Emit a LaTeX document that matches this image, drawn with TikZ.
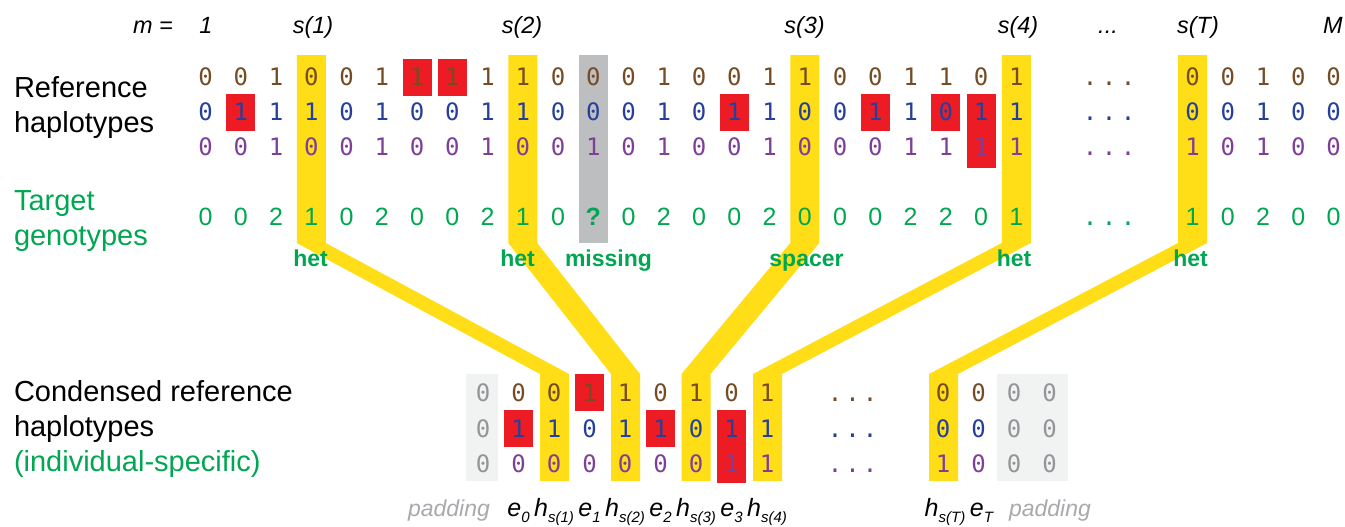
\documentclass[tikz,border=0pt]{standalone}
\usepackage{fontspec}
\setmainfont{Liberation Sans}
\newfontfamily\digitfont{DejaVu Sans Mono}

\definecolor{hapbrown}{HTML}{754C24}
\definecolor{hapblue}{HTML}{25409A}
\definecolor{happurple}{HTML}{7F3F98}
\definecolor{gengreen}{HTML}{00A651}
\definecolor{selyellow}{HTML}{FFDE17}
\definecolor{errred}{HTML}{ED1C24}
\definecolor{missgray}{HTML}{BCBEC0}
\definecolor{padfill}{HTML}{F1F2F2}
\definecolor{paddigit}{HTML}{939598}
\definecolor{padlabel}{HTML}{A7A9AC}

% lowered index for the column labels under the condensed panel
\newcommand\lowidx[1]{\raisebox{-4.8pt}{\fontsize{11.25}{11.25}\selectfont #1}}
% spaced ellipsis made of three periods
\newcommand\topdots{.\kern3.4pt.\kern3.4pt.}
\newcommand\lowdots{.\kern2.3pt.\kern2.3pt.}

\begin{document}
\begin{tikzpicture}[x=0.75pt,y=-0.75pt,
  every node/.style={inner sep=0pt,outer sep=0pt},
  hap/.style={font=\digitfont\fontsize{18}{18}\selectfont,anchor=base},
  gen/.style={font=\fontsize{18.75}{18.75}\selectfont,text=gengreen,anchor=base},
  tag/.style={font=\bfseries\fontsize{17.25}{17.25}\selectfont,text=gengreen,anchor=base},
  head/.style={font=\itshape\fontsize{17.6}{17.6}\selectfont,anchor=base},
  rowlabel/.style={font=\fontsize{21.75}{21.75}\selectfont,anchor=base west},
  collabel/.style={font=\itshape\fontsize{18.75}{18.75}\selectfont,anchor=base},
  padlab/.style={font=\itshape\fontsize{17.25}{17.25}\selectfont,text=padlabel,anchor=base},
  selband/.style={fill=selyellow},
  missband/.style={fill=missgray},
  padbox/.style={fill=padfill},
  redbox/.style={fill=errred},
]
\useasboundingbox (0,0) rectangle (1345,526);

% ---- selected het sites: column band bending down to the condensed panel
\foreach \k/\xb in {4/554.5,10/625.5,18/696,24/767.5,29/943.5} {
  \pgfmathsetmacro\xt{205.5+35.25*(\k-1)}
  \fill[selband] (\xt-14.5,55) -- (\xt+14.5,55) -- (\xt+14.5,243)
    -- (\xb+14.5,374) -- (\xb+14.5,481) -- (\xb-14.5,481)
    -- (\xb-14.5,374) -- (\xt-14.5,243) -- cycle;
}
% missing genotype column
\fill[missband] ({205.5+35.25*11-14.5},55) rectangle ({205.5+35.25*11+14.5},243);

% mismatching alleles in the reference panel
\foreach \k/\ya/\yb in {7/58.5/95.5,8/58.5/95.5,2/94/131,16/94/131,20/94/131,22/94/131,23/94/168}
  \fill[redbox] ({205.5+35.25*(\k-1)-14.5},\ya) rectangle ({205.5+35.25*(\k-1)+14.5},\yb);

% condensed panel: padding and mismatches
\fill[padbox] (466,374) rectangle (498,481);
\fill[padbox] (997,374) rectangle (1068,481);
\foreach \xc/\ya/\yb in {518.5/410/447,589.5/374/411,660.5/410/447,731.5/410/483}
  \fill[redbox] (\xc-14.5,\ya) rectangle (\xc+14.5,\yb);

% ---- header
\node[head] (hm) at (153,33) {m =};
\node[head] (h1) at (206,33) {1};
\node[head] (hs1) at (313,33) {s(1)};
\node[head] (hs2) at (522,33) {s(2)};
\node[head] (hs3) at (804.5,33) {s(3)};
\node[head] (hs4) at (1018,33) {s(4)};
\node[head] (hdots) at (1108,33) {...};
\node[head] (hsT) at (1198,33) {s(T)};
\node[head] (hM) at (1333,33) {M};

% ---- row labels
\node[rowlabel] (refA) at (14,97) {Reference};
\node[rowlabel] (refB) at (14,132) {haplotypes};
\node[rowlabel,text=gengreen] (tgtA) at (14,210) {Target};
\node[rowlabel,text=gengreen] (tgtB) at (14,245) {genotypes};
\node[rowlabel] (conA) at (14,401) {Condensed reference};
\node[rowlabel] (conB) at (14,436) {haplotypes};
\node[rowlabel,text=gengreen] (conC) at (14,471) {(individual-specific)};

% ---- reference haplotypes, sites 1..s(4)
\foreach \v [count=\k] in {0,0,1,0,0,1,1,1,1,1,0,0,0,1,0,0,1,1,0,0,1,1,0,1}
  \node[hap,text=hapbrown] (ra-\k) at ({205.5+35.25*(\k-1)},85.75) {\v};
\foreach \v [count=\k] in {0,1,1,1,0,1,0,0,1,1,0,0,0,1,0,1,1,0,0,1,1,0,1,1}
  \node[hap,text=hapblue] (rb-\k) at ({205.5+35.25*(\k-1)},120.75) {\v};
\foreach \v [count=\k] in {0,0,1,0,0,1,0,0,1,0,0,1,0,1,0,0,1,0,0,0,1,1,1,1}
  \node[hap,text=happurple] (rc-\k) at ({205.5+35.25*(\k-1)},155.75) {\v};
% sites s(T)..M
\foreach \v [count=\k from 29] in {0,0,1,0,0}
  \node[hap,text=hapbrown] (ra-\k) at ({205.5+35.25*(\k-1)},85.75) {\v};
\foreach \v [count=\k from 29] in {0,0,1,0,0}
  \node[hap,text=hapblue] (rb-\k) at ({205.5+35.25*(\k-1)},120.75) {\v};
\foreach \v [count=\k from 29] in {1,0,1,0,0}
  \node[hap,text=happurple] (rc-\k) at ({205.5+35.25*(\k-1)},155.75) {\v};
\node[hap,text=hapbrown] (radots) at (1109,85.75) {\topdots};
\node[hap,text=hapblue] (rbdots) at (1109,120.75) {\topdots};
\node[hap,text=happurple] (rcdots) at (1109,155.75) {\topdots};

% ---- target genotypes
\foreach \v [count=\k] in {0,0,2,1,0,2,0,0,2,1,0,\textbf{?},0,2,0,0,2,0,0,0,2,2,0,1}
  \node[gen] (g-\k) at ({205.5+35.25*(\k-1)},225) {\v};
\foreach \v [count=\k from 29] in {1,0,2,0,0}
  \node[gen] (g-\k) at ({205.5+35.25*(\k-1)},225) {\v};
\node[hap,text=gengreen] (gdots) at (1109,225) {\topdots};

% ---- site tags
\node[tag] (tag1) at (310.5,266) {het};
\node[tag] (tag2) at (517.5,266) {het};
\node[tag] (tag3) at (608.5,266) {missing};
\node[tag] (tag4) at (806.5,266) {spacer};
\node[tag] (tag5) at (1014,266) {het};
\node[tag] (tag6) at (1190.5,266) {het};

% ---- condensed reference haplotypes
\foreach \x [count=\i] in {483,1014,1049.5} {
  \node[hap,text=paddigit] (pa-\i) at (\x,401.75) {0};
  \node[hap,text=paddigit] (pb-\i) at (\x,437.25) {0};
  \node[hap,text=paddigit] (pc-\i) at (\x,472.75) {0};
}
\foreach \x/\a/\b/\c [count=\i] in {518.5/0/1/0,554/0/1/0,589.5/1/0/0,625/1/1/0,660.5/0/1/0,696/1/0/0,731.5/0/1/1,767/1/1/1,943/0/0/1,978.5/0/0/0} {
  \node[hap,text=hapbrown] (ca-\i) at (\x,401.75) {\a};
  \node[hap,text=hapblue] (cb-\i) at (\x,437.25) {\b};
  \node[hap,text=happurple] (cc-\i) at (\x,472.75) {\c};
}
\node[hap,text=hapbrown] (cadots) at (852.5,401.75) {\lowdots};
\node[hap,text=hapblue] (cbdots) at (852.5,437.25) {\lowdots};
\node[hap,text=happurple] (ccdots) at (852.5,472.75) {\lowdots};

% ---- column labels of the condensed panel
\node[padlab] (padL) at (449,516) {padding};
\node[collabel] (le0) at (518.5,516) {e\lowidx{0}};
\node[collabel] (lh1) at (554,516) {h\lowidx{s(1)}};
\node[collabel] (le1) at (589.5,516) {e\lowidx{1}};
\node[collabel] (lh2) at (625,516) {h\lowidx{s(2)}};
\node[collabel] (le2) at (660.5,516) {e\lowidx{2}};
\node[collabel] (lh3) at (696,516) {h\lowidx{s(3)}};
\node[collabel] (le3) at (731.5,516) {e\lowidx{3}};
\node[collabel] (lh4) at (767,516) {h\lowidx{s(4)}};
\node[collabel] (lhT) at (945,516) {h\lowidx{s(T)}};
\node[collabel] (leT) at (981.5,516) {e\lowidx{T}};
\node[padlab] (padR) at (1050,516) {padding};
\end{tikzpicture}
\end{document}
